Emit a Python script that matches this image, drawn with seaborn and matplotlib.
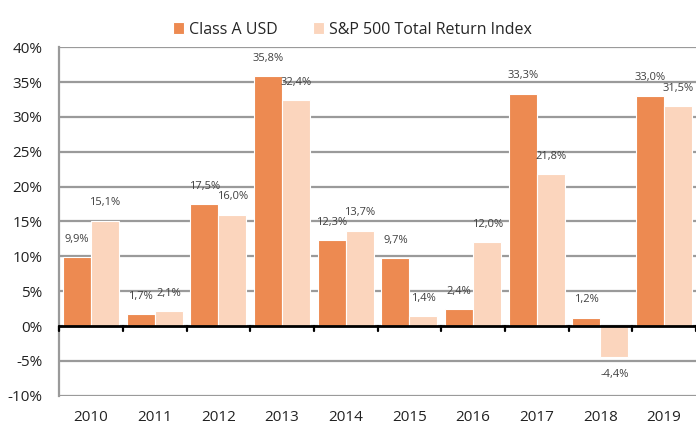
import pandas as pd
import matplotlib.pyplot as plt
import seaborn as sns
import numpy as np

sns.set_style('white')
plt.rcParams['font.family'] = ['Open Sans', 'DejaVu Sans']

# Data
years = ['2010', '2011', '2012', '2013', '2014', '2015', '2016', '2017', '2018', '2019']
class_a = [9.9, 1.7, 17.5, 35.8, 12.3, 9.7, 2.4, 33.3, 1.2, 33.0]
sp500 = [15.1, 2.1, 16.0, 32.4, 13.7, 1.4, 12.0, 21.8, -4.4, 31.5]
series_names = ['Class A USD', 'S&P 500 Total Return Index']
colors = ['#ED8A51', '#FBD5BD']

df = pd.DataFrame({
    'year': years * 2,
    'value': class_a + sp500,
    'series': [series_names[0]] * len(years) + [series_names[1]] * len(years),
})

fig = plt.figure(figsize=(6.96, 4.33), dpi=100)
ax = fig.add_axes([0.085, 0.086, 0.915, 0.805])

sns.barplot(data=df, x='year', y='value', hue='series', palette=colors,
            saturation=1, width=0.88, edgecolor='white', linewidth=0.8, ax=ax)

ax.set_ylim(-10, 40)
ax.set_xlim(-0.5, len(years) - 0.5)
ax.set_yticks(np.arange(-10, 41, 5))
ax.set_yticklabels([f'{v}%' for v in range(-10, 41, 5)])
ax.yaxis.grid(True, color='#9a9a9a', linewidth=1.6)
ax.set_axisbelow(True)
ax.set_xlabel('')
ax.set_ylabel('')
ax.tick_params(axis='both', length=0, labelsize=11, colors='#222222')
ax.tick_params(axis='x', pad=10)
ax.tick_params(axis='y', pad=12)

for s in ['top', 'right', 'bottom']:
    ax.spines[s].set_visible(False)
ax.spines['left'].set_color('#9a9a9a')
ax.spines['left'].set_linewidth(1.6)

# zero line with category separators
ax.axhline(0, color='black', linewidth=2, zorder=5)
for b in np.arange(-0.5, len(years), 1.0):
    ax.plot([b, b], [0, -0.75], color='black', linewidth=1.6, zorder=5, clip_on=False)

# value labels
for cont in ax.containers:
    for bar in cont:
        h = bar.get_height()
        x = bar.get_x() + bar.get_width() / 2
        txt = f'{h:.1f}%'.replace('.', ',')
        if h >= 0:
            ax.annotate(txt, (x, h), xytext=(0, 9), textcoords='offset points',
                        ha='center', va='bottom', fontsize=8, color='#404040')
        else:
            ax.annotate(txt, (x, h), xytext=(0, -9), textcoords='offset points',
                        ha='center', va='top', fontsize=8, color='#404040')

ax.legend(loc='lower center', bbox_to_anchor=(0.46, 1.0), ncol=2, frameon=False,
          fontsize=11.5, handlelength=0.7, handleheight=0.7, handletextpad=0.3,
          columnspacing=2.2, borderaxespad=0.2)

plt.savefig('out.png', dpi=100)
plt.close('all')
